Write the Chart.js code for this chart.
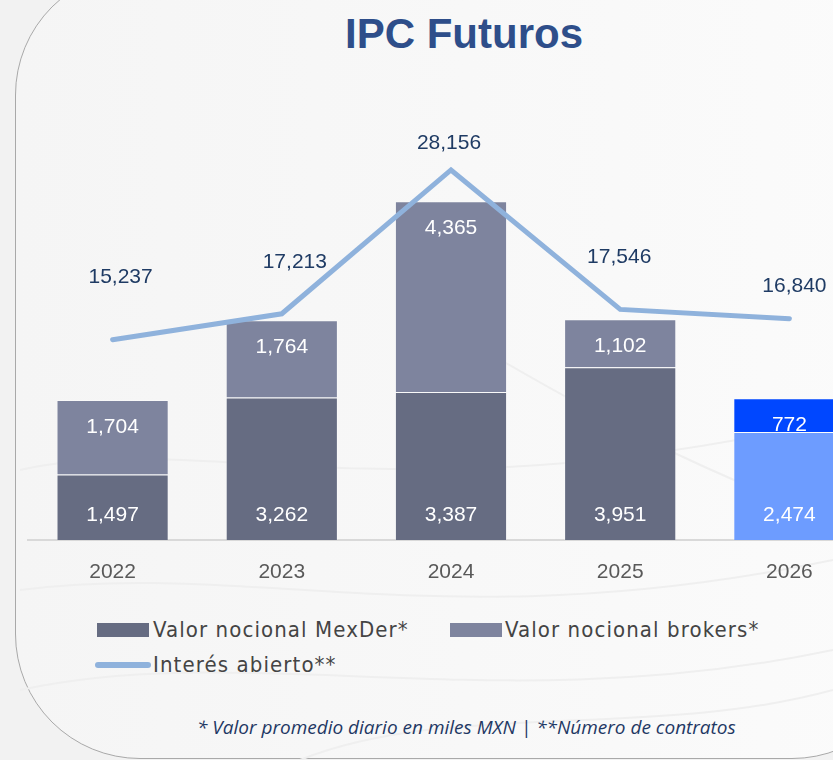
<!DOCTYPE html>
<html>
<head>
<meta charset="utf-8">
<script src="https://cdn.jsdelivr.net/npm/chart.js@4.4.1/dist/chart.umd.min.js"></script>
<style>
  body { margin: 0; width: 833px; height: 760px; overflow: hidden; background: #f2f2f2; position: relative; font-family: "Liberation Sans", Arial, sans-serif; }
  #panel { position: absolute; left: 15px; top: -30px; width: 900px; height: 787px; border: 1px solid #a9a9a9; border-radius: 125px; background: linear-gradient(90deg, #f5f5f5 0%, #f8f8f8 50%, #fbfbfb 100%); }
  #waves { position: absolute; left: 0; top: 0; }
  #title { position: absolute; left: 0; width: 928px; top: 10px; text-align: center; font-weight: bold; font-size: 42px; color: #2e4e8a; }
  #wrap { position: absolute; left: 0; top: 0; width: 880px; height: 590px; }
  .legend { position: absolute; font-family: "DejaVu Sans Condensed", "Liberation Sans Narrow", sans-serif; font-stretch: condensed; font-size: 22px; letter-spacing: 1.1px; color: #444; line-height: 30px; white-space: nowrap; }
  .box { position: absolute; width: 52px; height: 14px; }
  #note { position: absolute; left: 197px; top: 714px; font-family: "Open Sans", sans-serif; font-style: italic; font-size: 19px; color: #1f3864; white-space: nowrap; }
</style>
</head>
<body>
<div id="panel"></div>
<svg id="waves" width="833" height="760">
  <g fill="none" stroke="#efefef" stroke-width="2">
    <path d="M20 470 C 200 430, 400 520, 833 420"/>
    <path d="M20 590 C 250 560, 450 640, 833 560"/>
    <path d="M20 690 C 250 640, 500 720, 833 650"/>
    <path d="M300 760 C 450 700, 650 740, 833 690"/>
    <path d="M450 330 C 600 420, 700 470, 833 520"/>
  </g>
</svg>
<div id="title">IPC Futuros</div>
<div id="wrap"><canvas id="chart"></canvas></div>

<div class="box" style="left:97px; top:623px; background:#666c82;"></div>
<div class="legend" style="left:153px; top:615px;">Valor nocional MexDer*</div>
<div class="box" style="left:450px; top:623px; background:#7e849e;"></div>
<div class="legend" style="left:505px; top:615px;">Valor nocional brokers*</div>
<div class="box" style="left:95px; top:662px; width:56px; height:6px; border-radius:3px; background:#8fb2dc;"></div>
<div class="legend" style="left:153px; top:650px;">Interés abierto**</div>

<div id="note">* Valor promedio diario en miles MXN | **Número de contratos</div>

<script>
// Data
const years = ['2022', '2023', '2024', '2025', '2026'];
const mexder = [1497, 3262, 3387, 3951, 2474];
const brokers = [1704, 1764, 4365, 1102, 772];
const interes = [15237, 17213, 28156, 17546, 16840];

const fmt = v => v.toLocaleString('en-US');

// Labels inside the stacked bars
const barLabels = {
    id: 'barLabels',
    afterDatasetsDraw(chart) {
        const ctx = chart.ctx;
        ctx.save();
        ctx.font = '21px "Liberation Sans", Arial, sans-serif';
        ctx.fillStyle = '#ffffff';
        ctx.textAlign = 'center';
        ctx.textBaseline = 'middle';
        chart.getDatasetMeta(0).data.forEach((bar, i) => {
            ctx.fillText(fmt(mexder[i]), bar.x, bar.base - 25);
        });
        chart.getDatasetMeta(1).data.forEach((bar, i) => {
            ctx.fillText(fmt(brokers[i]), bar.x, bar.y + 27);
        });
        ctx.restore();
    }
};

// Labels above the line, nudged like in the original
const lineLabels = {
    id: 'lineLabels',
    afterDatasetsDraw(chart, args, opts) {
        const ctx = chart.ctx;
        const offsets = opts.offsets;
        ctx.save();
        ctx.font = '21px "Liberation Sans", Arial, sans-serif';
        ctx.fillStyle = '#1f3b64';
        ctx.textAlign = 'center';
        ctx.textBaseline = 'middle';
        chart.getDatasetMeta(2).data.forEach((pt, i) => {
            ctx.fillText(fmt(interes[i]), pt.x + offsets[i][0], pt.y + offsets[i][1]);
        });
        ctx.restore();
    }
};

const ctx = document.getElementById('chart').getContext('2d');
new Chart(ctx, {
    type: 'bar',
    data: {
        labels: years,
        datasets: [
            {
                label: 'Valor nocional MexDer*',
                data: mexder,
                backgroundColor: ['#666c82', '#666c82', '#666c82', '#666c82', '#6d9cff'],
                borderColor: 'rgba(255,255,255,0.3)',
                borderWidth: 1,
                yAxisID: 'y',
                order: 1
            },
            {
                label: 'Valor nocional brokers*',
                data: brokers,
                backgroundColor: ['#7e849e', '#7e849e', '#7e849e', '#7e849e', '#0047ff'],
                borderColor: 'rgba(255,255,255,0.3)',
                borderWidth: 1,
                yAxisID: 'y',
                order: 1
            },
            {
                type: 'line',
                label: 'Interés abierto**',
                data: interes,
                borderColor: '#8fb2dc',
                borderWidth: 5,
                pointRadius: 0,
                tension: 0,
                borderCapStyle: 'round',
                yAxisID: 'y1',
                order: 0
            }
        ]
    },
    options: {
        responsive: true,
        maintainAspectRatio: false,
        animation: false,
        layout: { padding: { left: 28, right: 6, top: 103, bottom: 0 } },
        datasets: { bar: { categoryPercentage: 1, barPercentage: 0.663 } },
        plugins: {
            legend: { display: false },
            tooltip: { enabled: false },
            lineLabels: { offsets: [[8, -63], [13, -52], [-2, -27], [-1, -52], [5, -32]] }
        },
        scales: {
            x: {
                stacked: true,
                grid: { display: false, drawTicks: false },
                border: { display: true, color: '#d9d9d9', width: 2 },
                ticks: { color: '#595959', font: { size: 21, family: '"Liberation Sans", Arial, sans-serif' }, padding: 20 },
                afterFit: s => { s.height = 50; }
            },
            y: { stacked: true, display: false, min: 0, max: 10000 },
            y1: { display: false, min: 0, max: 33250, position: 'right' }
        }
    },
    plugins: [barLabels, lineLabels]
});
</script>
</body>
</html>
